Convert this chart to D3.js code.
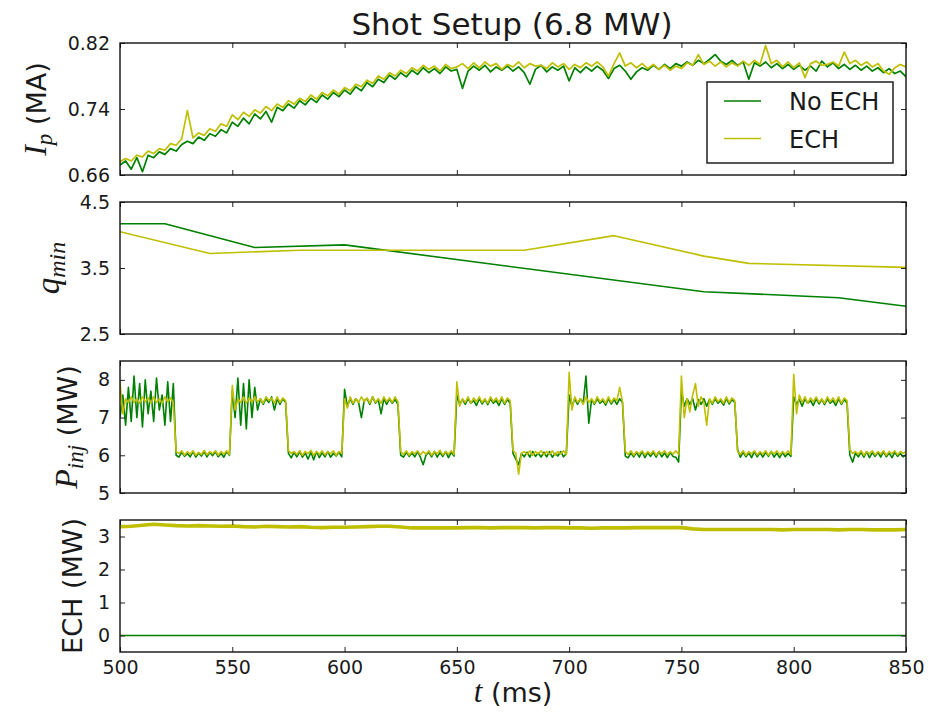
<!DOCTYPE html>
<html><head><meta charset="utf-8">
<script src="https://cdn.jsdelivr.net/npm/d3@7"></script>
<style>
body{margin:0;background:#fff;}
svg text{font-family:"DejaVu Sans",sans-serif;fill:#1a1a1a;}
.math{font-family:"Liberation Serif",serif;font-style:italic;}
</style></head><body>
<svg id="chart" width="929" height="715"></svg>
<script>
// ---------------- DATA ----------------
const seriesNames = ["No ECH", "ECH"];
const xTicks = [500, 550, 600, 650, 700, 750, 800, 850];

// Plasma current Ip (MA), sampled every 2.5 ms from 500 to 850 ms
const ipTime = d3.range(500, 850.001, 2.5);
const ipNoECH = [
 .672,.677,.667,.681,.664,.684,.681,.688,.685,.692,
 .689,.697,.701,.698,.706,.702,.710,.707,.715,.711,
 .724,.719,.729,.722,.734,.728,.737,.724,.742,.738,
 .746,.741,.750,.745,.753,.748,.757,.752,.760,.755,
 .763,.758,.767,.762,.772,.767,.776,.772,.781,.776,
 .784,.779,.787,.782,.790,.784,.789,.783,.791,.786,
 .788,.765,.786,.792,.787,.793,.785,.791,.787,.792,
 .786,.791,.784,.770,.788,.793,.785,.791,.787,.792,
 .774,.790,.784,.791,.786,.792,.787,.777,.789,.793,
 .786,.776,.785,.790,.787,.793,.788,.794,.789,.795,
 .792,.797,.793,.799,.795,.800,.806,.798,.794,.799,
 .793,.797,.776,.796,.792,.797,.790,.795,.789,.794,
 .788,.793,.787,.792,.786,.798,.791,.796,.789,.794,
 .788,.793,.787,.792,.786,.790,.784,.789,.783,.786,
 .779];
const ipECH = [
 .676,.680,.677,.684,.682,.689,.686,.692,.690,.698,
 .696,.704,.738,.705,.711,.708,.716,.713,.722,.719,
 .733,.727,.736,.731,.739,.735,.743,.738,.746,.742,
 .750,.746,.753,.749,.757,.752,.760,.756,.763,.758,
 .766,.762,.770,.767,.775,.771,.780,.776,.784,.780,
 .787,.783,.790,.786,.793,.788,.792,.786,.794,.789,
 .791,.795,.789,.796,.790,.797,.792,.795,.788,.794,
 .791,.797,.790,.795,.792,.793,.789,.796,.791,.795,
 .788,.794,.790,.796,.792,.797,.791,.780,.795,.808,
 .792,.796,.790,.795,.789,.794,.788,.793,.787,.792,
 .789,.796,.793,.806,.794,.798,.792,.797,.791,.796,
 .792,.798,.793,.799,.794,.817,.795,.799,.791,.797,
 .790,.796,.778,.795,.798,.793,.794,.797,.792,.809,
 .795,.799,.793,.797,.791,.795,.786,.782,.790,.794,
 .791];

// q_min (EFIT time slices)
const qTimeNoECH = [500, 520, 560, 600, 760, 820, 850];
const qNoECH     = [4.17, 4.17, 3.81, 3.85, 3.14, 3.05, 2.92];
const qTimeECH   = [500, 540, 580, 680, 720, 760, 780, 850];
const qECH       = [4.05, 3.72, 3.77, 3.77, 3.99, 3.68, 3.57, 3.51];

// Injected power P_inj (MW), sampled every 1.25 ms from 500 to 850 ms
const pTime = d3.range(500, 850.001, 1.25);
const pNoECH = [
 7.00,7.60,6.80,7.80,6.90,8.10,7.00,7.90,6.75,8.00,7.10,7.70,6.90,8.05,7.20,7.60,6.80,7.95,6.90,7.90,
 6.00,5.95,6.08,5.97,6.05,5.96,6.10,5.95,6.06,5.98,6.10,5.96,6.08,5.99,6.10,5.96,6.05,5.95,6.10,6.00,
 7.70,7.00,8.05,6.80,7.90,6.70,8.00,7.00,7.80,7.20,7.50,7.35,7.50,7.40,7.55,7.20,7.50,7.35,7.50,7.40,
 6.05,5.93,6.08,5.96,6.10,5.95,6.06,5.90,6.08,5.88,6.10,5.94,6.07,5.96,6.10,5.95,6.05,5.98,6.08,5.96,
 7.75,7.30,7.50,7.35,7.50,7.40,7.00,7.45,7.50,7.35,7.55,7.38,7.48,7.10,7.50,7.35,7.50,7.38,7.48,7.35,
 6.00,5.95,6.08,5.97,6.06,5.96,6.10,5.95,5.75,6.00,6.08,5.96,6.10,5.95,6.07,5.97,6.10,5.94,6.08,5.98,
 7.60,7.35,7.48,7.35,7.50,7.38,7.45,7.32,7.50,7.36,7.48,7.34,7.50,7.38,7.45,7.32,7.50,7.35,7.48,7.38,
 6.05,5.90,5.75,6.05,5.96,6.08,5.95,6.10,5.97,6.06,5.95,6.08,5.96,6.10,5.95,6.05,5.98,6.10,5.96,6.05,
 7.60,7.30,7.50,7.35,7.50,7.38,8.10,6.85,7.48,7.35,7.50,7.38,7.45,7.33,7.50,7.36,7.48,7.35,7.50,7.40,
 5.98,5.93,6.06,5.96,6.08,5.95,6.10,5.94,6.07,5.97,6.08,5.95,6.10,5.96,6.06,5.94,6.08,5.97,5.95,5.82,
 7.70,7.30,7.50,7.35,7.50,7.20,7.48,7.35,7.50,7.30,7.48,7.35,7.50,7.38,7.45,7.33,7.50,7.36,7.48,7.40,
 6.15,5.95,6.08,5.96,6.06,5.94,6.10,5.96,6.07,5.95,6.08,5.97,6.10,5.95,6.06,5.94,6.08,5.96,6.05,5.97,
 7.55,7.35,7.48,7.30,7.50,7.38,7.45,7.32,7.50,7.36,7.48,7.34,7.50,7.38,7.45,7.32,7.50,7.35,7.48,7.38,
 6.00,5.82,6.06,5.96,6.08,5.95,6.10,5.94,6.07,5.97,6.08,5.95,6.10,5.96,6.06,5.94,6.08,5.97,6.05,5.96,
 6.02];
const pECH = [
 7.95,7.10,7.50,7.40,7.55,7.40,7.50,7.38,7.55,7.42,7.52,7.38,7.55,7.40,7.50,7.38,7.55,7.42,7.52,7.40,
 6.10,6.05,6.12,6.00,6.10,6.03,6.12,6.00,6.08,6.02,6.13,6.01,6.10,6.04,6.12,6.00,6.10,6.03,6.12,6.02,
 7.85,7.20,7.50,7.40,7.55,7.38,7.52,7.40,7.55,7.42,7.50,7.38,7.55,7.45,7.52,7.38,7.55,7.40,7.52,7.45,
 6.12,6.05,6.10,6.02,6.12,6.00,6.10,6.04,6.13,6.00,6.10,6.03,6.12,6.01,6.10,6.04,6.12,6.00,6.10,6.05,
 7.50,7.25,7.55,7.38,7.50,7.40,7.55,7.42,7.52,7.38,7.55,7.40,7.50,7.38,7.55,7.42,7.52,7.40,7.55,7.42,
 6.10,6.02,6.12,6.00,6.10,6.04,6.12,6.01,6.10,6.03,6.12,6.00,6.10,6.04,6.13,6.01,6.10,6.03,6.12,6.02,
 7.95,7.30,7.50,7.40,7.55,7.38,7.52,7.42,7.55,7.40,7.50,7.38,7.55,7.42,7.52,7.40,7.55,7.38,7.52,7.45,
 6.12,6.05,5.50,6.05,6.10,6.02,6.12,6.00,6.10,6.04,6.12,6.01,6.10,6.03,6.12,6.00,6.10,6.04,6.12,6.02,
 8.20,7.20,7.55,7.40,7.50,7.35,7.55,7.40,7.50,7.38,7.55,7.42,7.50,7.38,7.55,7.40,7.52,7.45,7.80,7.42,
 6.10,6.02,6.12,6.00,6.10,6.04,6.12,6.01,6.10,6.03,6.12,6.00,6.10,6.04,6.12,6.01,6.10,6.03,6.12,6.02,
 8.10,7.00,7.50,7.15,7.60,7.90,7.30,7.55,7.40,6.80,7.50,7.38,7.55,7.42,7.50,7.38,7.55,7.40,7.52,7.45,
 6.10,6.02,6.12,6.00,6.10,6.04,6.12,6.01,6.10,6.03,6.12,6.00,6.10,6.04,6.12,6.01,6.10,6.03,6.12,6.02,
 8.15,7.10,7.60,7.40,7.55,7.38,7.52,7.42,7.55,7.40,7.50,7.38,7.55,7.42,7.52,7.40,7.55,7.38,7.52,7.45,
 6.15,6.05,6.10,6.02,6.12,6.00,6.10,6.04,6.12,6.01,6.10,6.03,6.12,6.00,6.10,6.04,6.12,6.01,6.10,6.05,
 6.10];

// ECH power (MW)
const eTimeNoECH = [500, 850];
const eNoECH = [0, 0];
const eTime = d3.range(500, 850.001, 5);
const eECH = [
 3.30,3.31,3.34,3.37,3.35,3.33,3.32,3.33,3.32,3.31,
 3.32,3.30,3.29,3.31,3.30,3.29,3.30,3.28,3.27,3.28,
 3.28,3.29,3.30,3.31,3.31,3.29,3.26,3.26,3.26,3.26,
 3.26,3.27,3.27,3.26,3.27,3.27,3.27,3.26,3.27,3.27,
 3.26,3.26,3.25,3.26,3.26,3.26,3.27,3.27,3.27,3.27,
 3.27,3.23,3.21,3.21,3.21,3.21,3.21,3.21,3.21,3.20,
 3.21,3.21,3.21,3.21,3.20,3.21,3.21,3.20,3.20,3.20,
 3.21];

const ipTicks = [0.66, 0.74, 0.82];
const qTicks = [2.5, 3.5, 4.5];
const pTicks = [5, 6, 7, 8];
const eTicks = [0, 1, 2, 3];

// ---------------- LAYOUT / STYLE ----------------
const colors = {noech: "#008000", ech: "#bfbf00"};
const L = 120, R = 906, PH = 132;
const svg = d3.select("#chart");
const x = d3.scaleLinear().domain([500, 850]).range([L, R]);

const panels = [
  {top: 43, domain: [0.66, 0.82], ticks: ipTicks, fmt: d3.format(".2f"),
   series: [[ipTime, ipNoECH, colors.noech, 1.7], [ipTime, ipECH, colors.ech, 1.7]],
   label: {x: 46, size: 27, parts: [["I", "m"], ["p", "s"], [" (MA)", "n"]]}},
  {top: 202, domain: [2.5, 4.5], ticks: qTicks, fmt: d3.format(".1f"),
   series: [[qTimeNoECH, qNoECH, colors.noech, 1.6], [qTimeECH, qECH, colors.ech, 1.6]],
   label: {x: 59, size: 28, parts: [["q", "m"], ["min", "s"]]}},
  {top: 361, domain: [5, 8.5], ticks: pTicks, fmt: d3.format("d"),
   series: [[pTime, pNoECH, colors.noech, 1.6], [pTime, pECH, colors.ech, 1.6]],
   label: {x: 77, size: 27, parts: [["P", "m"], ["inj", "s"], [" (MW)", "n"]]}},
  {top: 520, domain: [-0.5, 3.5], ticks: eTicks, fmt: d3.format("d"),
   series: [[eTimeNoECH, eNoECH, colors.noech, 1.6], [eTime, eECH, colors.ech, 3.6]],
   label: {x: 82, size: 27, parts: [["ECH (MW)", "n"]]}}
];

panels.forEach((p, i) => {
  const y = d3.scaleLinear().domain(p.domain).range([p.top + PH, p.top]);
  const g = svg.append("g");
  const cid = "clip" + i;
  svg.append("clipPath").attr("id", cid).append("rect")
    .attr("x", L).attr("y", p.top).attr("width", R - L).attr("height", PH);

  const lines = g.append("g").attr("clip-path", `url(#${cid})`);
  p.series.forEach(([t, v, c, w]) => {
    const line = d3.line().x((d, k) => x(t[k])).y(d => y(d));
    lines.append("path").datum(v).attr("d", line)
      .attr("fill", "none").attr("stroke", c).attr("stroke-width", w)
      .attr("stroke-linejoin", "round");
  });

  const styleAxis = sel => {
    sel.select(".domain").remove();
    sel.selectAll(".tick line").attr("stroke", "#222").attr("stroke-width", 1);
    sel.selectAll(".tick text").style("font-size", "19px").attr("fill", "#1a1a1a");
  };
  g.append("g").attr("transform", `translate(${L},0)`)
    .call(d3.axisLeft(y).tickValues(p.ticks).tickFormat(p.fmt).tickSizeInner(-5).tickSizeOuter(0).tickPadding(10))
    .call(styleAxis);
  g.append("g").attr("transform", `translate(${R},0)`)
    .call(d3.axisRight(y).tickValues(p.ticks).tickFormat("").tickSizeInner(-5).tickSizeOuter(0))
    .call(styleAxis);
  g.append("g").attr("transform", `translate(0,${p.top})`)
    .call(d3.axisTop(x).tickValues(xTicks).tickFormat("").tickSizeInner(-5).tickSizeOuter(0))
    .call(styleAxis);
  g.append("g").attr("transform", `translate(0,${p.top + PH})`)
    .call(d3.axisBottom(x).tickValues(xTicks).tickFormat(i === 3 ? d3.format("d") : "")
      .tickSizeInner(-5).tickSizeOuter(0).tickPadding(9))
    .call(styleAxis);

  g.append("rect").attr("x", L).attr("y", p.top).attr("width", R - L).attr("height", PH)
    .attr("fill", "none").attr("stroke", "#111").attr("stroke-width", 1.4);

  // y label
  const lab = g.append("text")
    .attr("transform", `translate(${p.label.x},${p.top + PH / 2}) rotate(-90)`)
    .attr("text-anchor", "middle");
  let shifted = false;
  p.label.parts.forEach(([s, kind]) => {
    const ts = lab.append("tspan").text(s);
    if (kind === "m") {
      ts.attr("class", "math").style("font-size", (p.label.size + 5) + "px");
      if (shifted) { ts.attr("dy", -6); shifted = false; }
    } else if (kind === "s") {
      ts.attr("class", "math").style("font-size", (p.label.size - 4) + "px").attr("dy", 6);
      shifted = true;
    } else {
      ts.style("font-size", p.label.size + "px");
      if (shifted) { ts.attr("dy", -6); shifted = false; }
    }
  });
});

// Title
svg.append("text").attr("x", 512).attr("y", 35).attr("text-anchor", "middle")
  .style("font-size", "31px").text("Shot Setup (6.8 MW)");

// x label
const xl = svg.append("text").attr("x", 513).attr("y", 702).attr("text-anchor", "middle");
xl.append("tspan").attr("class", "math").style("font-size", "31px").text("t");
xl.append("tspan").style("font-size", "27px").text(" (ms)");

// Legend
const lg = svg.append("g");
lg.append("rect").attr("x", 707).attr("y", 82).attr("width", 186).attr("height", 81)
  .attr("fill", "#fff").attr("stroke", "#111").attr("stroke-width", 1.4);
[colors.noech, colors.ech].forEach((c, k) => {
  const yy = 101 + k * 37.5;
  lg.append("line").attr("x1", 724).attr("x2", 761).attr("y1", yy).attr("y2", yy)
    .attr("stroke", c).attr("stroke-width", 1.6);
  lg.append("text").attr("x", 789).attr("y", yy + 9).style("font-size", "24px").text(seriesNames[k]);
});
</script>
</body></html>
